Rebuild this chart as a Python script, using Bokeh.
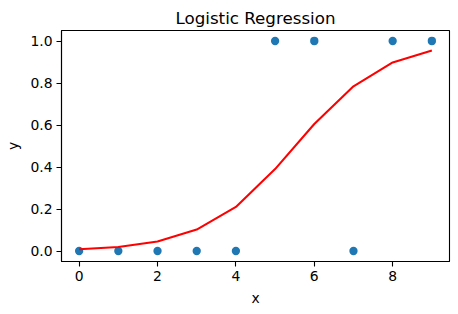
from bokeh.plotting import figure
from bokeh.models import FixedTicker, Range1d, CustomJSTickFormatter
from bokeh.embed import file_html
from bokeh.resources import INLINE

x_vals = [0, 1, 2, 3, 4, 5, 6, 7, 8, 9]
y_vals = [0, 0, 0, 0, 0, 1, 1, 0, 1, 1]
fit_vals = [0.008, 0.019, 0.045, 0.102, 0.21, 0.39, 0.605, 0.784, 0.898, 0.955]
x_ticks = [0, 2, 4, 6, 8]
y_ticks = [0.0, 0.2, 0.4, 0.6, 0.8, 1.0]

FONT = "DejaVu Sans"

p = figure(width=458, height=314, output_backend="svg", toolbar_location=None,
           frame_width=388, frame_height=231,
           x_range=Range1d(-0.45, 9.45), y_range=Range1d(-0.05, 1.05),
           min_border_left=61, min_border_right=9, min_border_top=30, min_border_bottom=53,
           title="Logistic Regression")

p.scatter(x_vals, y_vals, size=8.3, color="#1f77b4", line_color=None)
p.line(x_vals, fit_vals, color="red", line_width=2.08)

p.title.align = "center"
p.title.text_font = FONT
p.title.text_font_size = "16.7px"
p.title.text_font_style = "normal"
p.title.text_color = "black"
p.title.standoff = 6
p.title.offset = 0

p.xgrid.visible = False
p.ygrid.visible = False
p.outline_line_color = "black"
p.outline_line_width = 1.1
p.outline_line_alpha = 1.0

p.xaxis.ticker = FixedTicker(ticks=x_ticks)
p.yaxis.ticker = FixedTicker(ticks=y_ticks)
p.yaxis.formatter = CustomJSTickFormatter(code="return tick.toFixed(1);")
p.xaxis.axis_label = "x"
p.yaxis.axis_label = "y"
for ax in (p.xaxis[0], p.yaxis[0]):
    ax.axis_label_text_font = FONT
    ax.axis_label_text_font_size = "13.9px"
    ax.axis_label_text_font_style = "normal"
    ax.axis_label_text_color = "black"
    ax.major_label_text_font = FONT
    ax.major_label_text_font_size = "13.9px"
    ax.major_label_text_color = "black"
    ax.major_tick_out = 5
    ax.major_tick_in = 0
    ax.minor_tick_out = 0
    ax.minor_tick_in = 0
    ax.major_tick_line_color = "black"
    ax.major_tick_line_width = 1.1
    ax.axis_line_color = "black"
    ax.axis_line_width = 1.1
    ax.major_label_standoff = 4
    ax.axis_label_standoff = 6
p.background_fill_color = "white"
p.border_fill_color = "white"

open("out.html", "w").write(file_html(p, INLINE))
